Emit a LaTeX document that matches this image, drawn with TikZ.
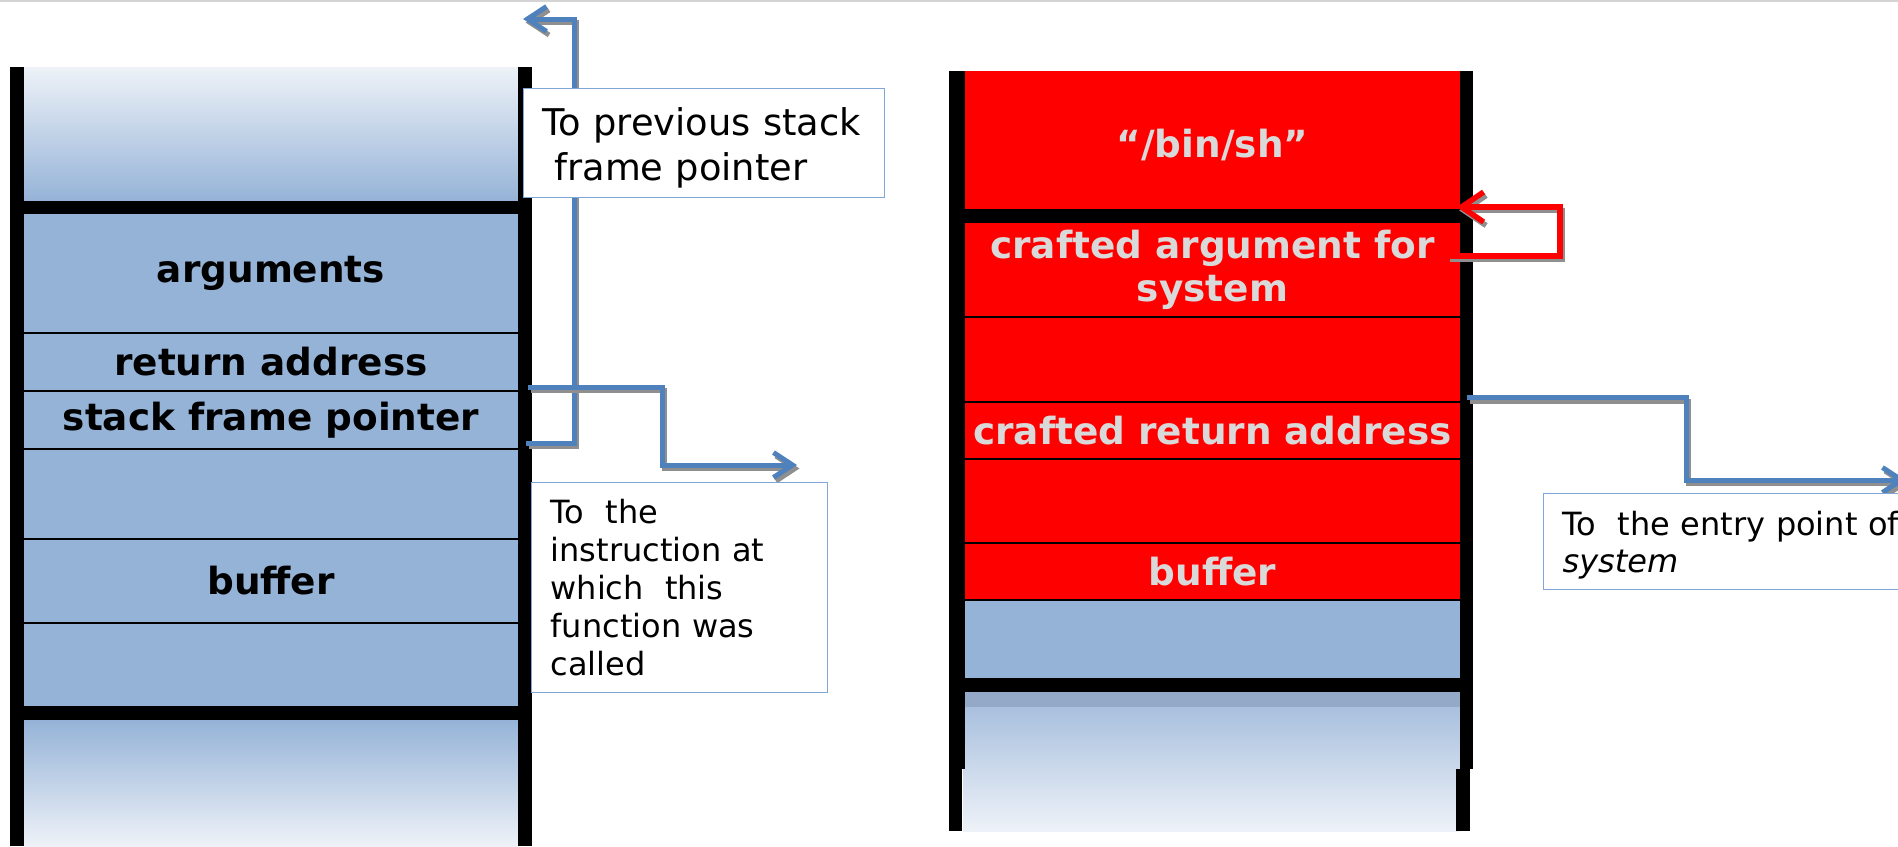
\documentclass[tikz,border=0pt]{standalone}
\usepackage{fontspec}
\setmainfont{DejaVu Sans}
\usetikzlibrary{arrows.meta,calc}

\definecolor{cellblue}{HTML}{95B3D7}
\definecolor{fadeblue}{HTML}{EEF2F8}
\definecolor{deepfade}{HTML}{93A9C7}
\definecolor{midfade}{HTML}{A9C0DE}
\definecolor{linkblue}{HTML}{4F81BD}
\definecolor{boxline}{HTML}{7FA6D6}
\definecolor{shadowgray}{HTML}{8F8F8F}
\definecolor{lighttext}{HTML}{D9D9D9}
\definecolor{hotred}{HTML}{FF0000}
\definecolor{rulegray}{HTML}{D4D4D4}

\begin{document}
\begin{tikzpicture}[x=1pt,y=-1pt,
  cell/.style={rectangle, inner sep=0pt, draw=none, align=center,
    font=\bfseries\fontsize{37.4}{43}\selectfont},
  lcell/.style={cell, minimum width=496pt, fill=cellblue, text=black},
  rcell/.style={cell, minimum width=497pt, fill=hotred, text=lighttext},
  band/.style={rectangle, inner sep=0pt, fill=black, minimum height=14pt},
  sep/.style={draw=black, line width=1.5pt},
  linkshadow/.style={draw=shadowgray, line width=#1,
    transform canvas={shift={(2.5pt,-3.5pt)}}},
  bluetip/.style={-{Straight Barb[length=19pt,width=25pt]}},
  redtip/.style={-{Straight Barb[length=22pt,width=30pt]}},
  bluelink/.style={draw=linkblue, line width=5pt, bluetip},
  redlink/.style={draw=hotred, line width=5.5pt, redtip},
  notebox/.style={rectangle, draw=boxline, line width=1.2pt, fill=white,
    inner xsep=19pt, inner ysep=0pt, align=left, anchor=north west}
]
\useasboundingbox (0,0) rectangle (1898,846);
\fill[rulegray] (0,0) rectangle (1898,1.5);

% ---------- normal stack frame ----------
\shade[top color=fadeblue, bottom color=cellblue] (24,67) rectangle (518,201);
\shade[top color=cellblue, bottom color=fadeblue] (24,720) rectangle (518,846);
\node[lcell, minimum height=119pt] (larg)  at (271,273.5) {arguments};
\node[lcell, minimum height=58pt]  (lret)  at (271,362)   {return address};
\node[lcell, minimum height=58pt]  (lsfp)  at (271,420)   {stack frame pointer};
\node[lcell, minimum height=90pt]  (lgap1) at (271,494)   {};
\node[lcell, minimum height=84pt]  (lbuf)  at (271,581)   {buffer};
\node[lcell, minimum height=83pt]  (lgap2) at (271,664.5) {};
\node[band, minimum width=508pt, minimum height=13pt] (lband1) at (271,207.5) {};
\node[band, minimum width=508pt] (lband2) at (271,713) {};
\draw[sep] (lret.north west) -- (lret.north east);
\draw[sep] (lret.south west) -- (lret.south east);
\draw[sep] (lsfp.south west) -- (lsfp.south east);
\draw[sep] (lbuf.north west) -- (lbuf.north east);
\draw[sep] (lbuf.south west) -- (lbuf.south east);
\fill[black] (10,67) rectangle (24,846);
\fill[black] (518,67) rectangle (532,846);

% ---------- overwritten stack frame ----------
\node[rcell, minimum height=138pt, text height=34pt, text depth=0pt] (rsh) at (1212.5,140) {“/bin/sh”};
\node[rcell, minimum height=94pt]  (rarg)  at (1212.5,270)   {crafted argument for\\system};
\node[rcell, minimum height=85pt]  (rgap1) at (1212.5,359.5) {};
\node[rcell, minimum height=57pt]  (rret)  at (1212.5,430.5) {crafted return address};
\node[rcell, minimum height=84pt]  (rgap2) at (1212.5,501)   {};
\node[rcell, minimum height=57pt]  (rbuf)  at (1212.5,571.5) {buffer};
\node[lcell, minimum width=497pt, minimum height=78pt] (rblue) at (1212.5,639) {};
\fill[deepfade] (963,692) rectangle (1460,707);
\shade[top color=midfade, bottom color=fadeblue] (963,707) rectangle (1460,831);
\node[band, minimum width=510pt] (rband1) at (1212.5,216) {};
\node[band, minimum width=510pt] (rband2) at (1212.5,685) {};
\draw[sep] (rarg.south west) -- (rarg.south east);
\draw[sep] (rret.north west) -- (rret.north east);
\draw[sep] (rret.south west) -- (rret.south east);
\draw[sep] (rbuf.north west) -- (rbuf.north east);
\draw[sep] (rbuf.south west) -- (rbuf.south east);
\fill[black] (949,71) rectangle (965,769);
\fill[black] (949,769) rectangle (962,831);
\fill[black] (1460,71) rectangle (1473,769);
\fill[black] (1456,769) rectangle (1470,831);

% ---------- pointers (drop shadow first, then the line) ----------
\coordinate (prevtip) at (523,19);
\coordinate (calltip) at (797,465);
\coordinate (systip)  at (1906,480);
\coordinate (sfpout)  at ([shift={(7,-6)}]lsfp.south east);
\coordinate (retout)  at ([shift={(9,-4)}]lret.south east);
\coordinate (crout)   at ([shift={(6,-4)}]rret.north east);
\coordinate (argout)  at ([shift={(-14,-14)}]rarg.east);
\coordinate (bandtip) at ([shift={(-11,-9)}]rband1.east);

\draw[linkshadow=5pt, bluetip] (sfpout) -- ++(48,0) |- (prevtip);
\draw[bluelink] (sfpout) -- ++(48,0) |- (prevtip);
\draw[linkshadow=5pt, bluetip] (retout) -- ++(134,0) |- (calltip);
\draw[bluelink] (retout) -- ++(134,0) |- (calltip);
\draw[linkshadow=5pt, bluetip] (crout) -- ++(219,0) |- (systip);
\draw[bluelink] (crout) -- ++(219,0) |- (systip);
\draw[linkshadow=5.5pt, redtip] (argout) -- ++(113,0) |- (bandtip);
\draw[redlink] (argout) -- ++(113,0) |- (bandtip);

% ---------- notes ----------
\node[notebox, text width=323pt, text height=47pt, text depth=62pt,
  font=\fontsize{36.8}{45}\selectfont] (prevnote) at (523,88)
  {\mbox{To previous stack}\\\mbox{\hspace*{0.32em}frame pointer}};
\node[notebox, text width=258pt, text height=41pt, text depth=169pt,
  font=\fontsize{32}{38}\selectfont] (callnote) at (531,482)
  {To\ \ the\\instruction at\\which\ \ this\\function was\\called};
\node[notebox, text width=340pt, text height=42pt, text depth=54pt,
  font=\fontsize{32}{37}\selectfont] (sysnote) at (1543,493)
  {\mbox{To\ \ the entry point of}\\\textit{system}};
\end{tikzpicture}
\end{document}
